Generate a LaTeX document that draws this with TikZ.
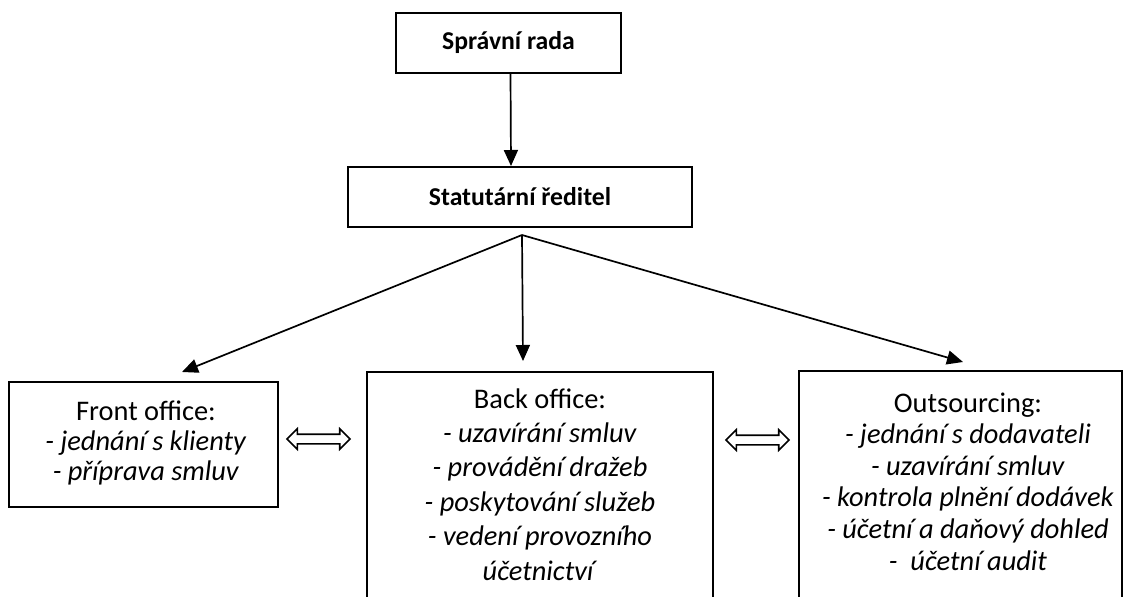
\documentclass[tikz,border=0pt]{standalone}
\usepackage{fontspec}
\setmainfont{Carlito}
\usetikzlibrary{arrows.meta,shapes.arrows}
\begin{document}
\begin{tikzpicture}[x=1pt,y=-1pt,
  box/.style={draw, line width=2pt, inner sep=0pt},
  title/.style={font=\bfseries\fontsize{25.7}{30}\selectfont},
  body/.style={align=center, inner sep=0pt, anchor=base},
  conn/.style={line width=1.7pt, -{Triangle[length=16pt,width=14pt]}},
  dblarr/.style={double arrow, draw, line width=1.6pt, minimum height=63pt,
    double arrow head extend=5.5pt, inner xsep=0pt, inner ysep=4pt}]
\useasboundingbox (0,0) rectangle (1130,597);
\clip (0,0) rectangle (1130,597);
\fill[white] (0,0) rectangle (1130,597);

% top boxes
\node[box, title, minimum width=225pt, minimum height=60pt] (sr) at (508.5,43) {Správní rada};
\node[box, title, minimum width=344pt, minimum height=60pt] (st) at (520,197) {Statutární ředitel};

% lower boxes
\node[box, minimum width=269pt, minimum height=125pt, anchor=north] (front) at (143.5,381) {};
\node[box, minimum width=346pt, minimum height=260pt, anchor=north] (back) at (540,371) {};
\node[box, minimum width=323pt, minimum height=260pt, anchor=north] (outs) at (960.5,370) {};

% texts (anchor = baseline of last line)
\node[body, font=\fontsize{28.4}{30}\selectfont] (ftxt) at (146,480)
  {Front office:\\ \textit{- jednání s klienty}\\ \textit{- příprava smluv}};
\node[body, font=\fontsize{28.4}{34.4}\selectfont] (btxt) at (540,580)
  {Back office:\\ \textit{- uzavírání smluv}\\ \textit{- provádění dražeb}\\
   \textit{- poskytování služeb}\\ \textit{- vedení provozního}\\ \textit{účetnictví}};
\node[body, font=\fontsize{28.4}{31.6}\selectfont] (otxt) at (968,570)
  {Outsourcing:\\ \textit{- jednání s dodavateli}\\ \textit{- uzavírání smluv}\\
   \textit{- kontrola plnění dodávek}\\ \textit{- účetní a daňový dohled}\\ \textit{-\ \ účetní audit}};

% connectors
\draw[conn] ([xshift=2pt]sr.south) -- ([xshift=-9pt]st.north);
\coordinate (fan) at (522,235);
\coordinate (tf) at (182,372);
\coordinate (tb) at (523,361);
\coordinate (to) at (963,362);
\draw[conn] (fan) -- (tf);
\draw[conn] (fan) -- (tb);
\draw[conn] (fan) -- (to);

% double arrows
\node[dblarr] (d1) at (318.5,439) {};
\node[dblarr] (d2) at (757.5,440) {};
\end{tikzpicture}
\end{document}
